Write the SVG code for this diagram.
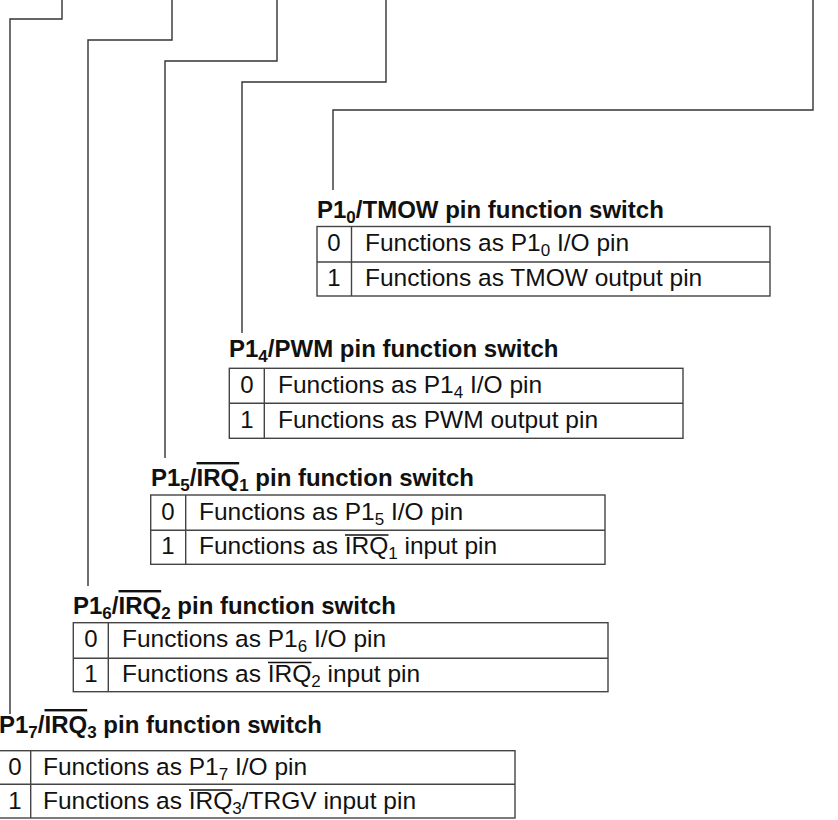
<svg xmlns="http://www.w3.org/2000/svg" width="838" height="820" viewBox="0 0 838 820">
<style>
.bg{fill:#ffffff}
.wire{fill:none;stroke:#333333;stroke-width:1.4}
.tb{fill:none;stroke:#444444;stroke-width:1.4}
.title{font-family:"Liberation Sans",Arial,Helvetica,sans-serif;font-size:24px;font-weight:bold;fill:#111111}
.row{font-family:"Liberation Sans",Arial,Helvetica,sans-serif;font-size:24.5px;fill:#111111}
.num{font-family:"Liberation Sans",Arial,Helvetica,sans-serif;font-size:24px;fill:#111111;text-anchor:middle}
.sub{font-size:17px}
.ov{text-decoration:overline}
.bar{stroke:#111111;stroke-width:1.3}
</style>
<rect class="bg" x="0" y="0" width="838" height="820"/>
<g id="connectors">
<path class="wire" d="M62,0 V19 H10 V714"/>
<path class="wire" d="M172,0 V40 H88 V586"/>
<path class="wire" d="M277,0 V61 H165 V458"/>
<path class="wire" d="M386,0 V82 H242 V333"/>
<path class="wire" d="M813,0 V110 H333 V190"/>
</g>
<g id="p10-tmow">
<text class="title" x="317" y="218">P1<tspan class="sub" dy="5">0</tspan><tspan dy="-5">/TMOW pin function switch</tspan></text>
<rect class="tb" x="317" y="226.5" width="453" height="69.5"/>
<path class="tb" d="M317,262 H770 M351.5,226.5 V296"/>
<text class="num" x="334" y="251">0</text>
<text class="num" x="334" y="285.5">1</text>
<text class="row" x="365" y="251">Functions as P1<tspan class="sub" dy="5">0</tspan><tspan dy="-5"> I/O pin</tspan></text>
<text class="row" x="365" y="285.5">Functions as TMOW output pin</text>
</g>
<g id="p14-pwm">
<text class="title" x="229" y="357">P1<tspan class="sub" dy="5">4</tspan><tspan dy="-5">/PWM pin function switch</tspan></text>
<rect class="tb" x="229.3" y="368.3" width="453.7" height="70"/>
<path class="tb" d="M229.3,403.3 H683 M264.3,368.3 V438.3"/>
<text class="num" x="247" y="393">0</text>
<text class="num" x="247" y="427.5">1</text>
<text class="row" x="278" y="393">Functions as P1<tspan class="sub" dy="5">4</tspan><tspan dy="-5"> I/O pin</tspan></text>
<text class="row" x="278" y="427.5">Functions as PWM output pin</text>
</g>
<g id="p15-irq1">
<text class="title" x="151" y="486">P1<tspan class="sub" dy="5">5</tspan><tspan dy="-5">/</tspan><tspan class="ov">IRQ</tspan><tspan class="sub" dy="5">1</tspan><tspan dy="-5"> pin function switch</tspan></text>
<rect class="tb" x="150.7" y="495" width="454.3" height="69.3"/>
<path class="tb" d="M150.7,530.3 H605 M185.7,495 V564.3"/>
<text class="num" x="168" y="519.5">0</text>
<text class="num" x="168" y="554">1</text>
<text class="row" x="199" y="519.5">Functions as P1<tspan class="sub" dy="5">5</tspan><tspan dy="-5"> I/O pin</tspan></text>
<text class="row" x="199" y="554">Functions as IRQ<tspan class="sub" dy="5">1</tspan><tspan dy="-5"> input pin</tspan></text>
<line class="bar" x1="345" y1="535" x2="388.5" y2="535"/>
</g>
<g id="p16-irq2">
<text class="title" x="73" y="614">P1<tspan class="sub" dy="5">6</tspan><tspan dy="-5">/</tspan><tspan class="ov">IRQ</tspan><tspan class="sub" dy="5">2</tspan><tspan dy="-5"> pin function switch</tspan></text>
<rect class="tb" x="73.3" y="622.7" width="534.7" height="69"/>
<path class="tb" d="M73.3,658.3 H608 M108.3,622.7 V691.7"/>
<text class="num" x="91" y="647">0</text>
<text class="num" x="91" y="681.5">1</text>
<text class="row" x="122" y="647">Functions as P1<tspan class="sub" dy="5">6</tspan><tspan dy="-5"> I/O pin</tspan></text>
<text class="row" x="122" y="681.5">Functions as IRQ<tspan class="sub" dy="5">2</tspan><tspan dy="-5"> input pin</tspan></text>
<line class="bar" x1="268" y1="662.5" x2="311.5" y2="662.5"/>
</g>
<g id="p17-irq3">
<text class="title" x="-1" y="733">P1<tspan class="sub" dy="5">7</tspan><tspan dy="-5">/</tspan><tspan class="ov">IRQ</tspan><tspan class="sub" dy="5">3</tspan><tspan dy="-5"> pin function switch</tspan></text>
<rect class="tb" x="-1" y="750.7" width="516" height="67.3"/>
<path class="tb" d="M-1,784.3 H515 M30.7,750.7 V818"/>
<text class="num" x="15" y="775">0</text>
<text class="num" x="15" y="809">1</text>
<text class="row" x="43" y="775">Functions as P1<tspan class="sub" dy="5">7</tspan><tspan dy="-5"> I/O pin</tspan></text>
<text class="row" x="43" y="809">Functions as IRQ<tspan class="sub" dy="5">3</tspan><tspan dy="-5">/TRGV input pin</tspan></text>
<line class="bar" x1="189" y1="790" x2="232.5" y2="790"/>
</g>
</svg>
